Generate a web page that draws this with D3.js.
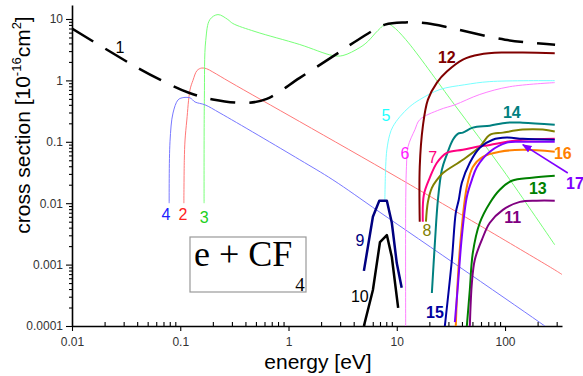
<!DOCTYPE html>
<html>
<head>
<meta charset="utf-8">
<script src="https://cdn.jsdelivr.net/npm/d3@7"></script>
<style>
  html, body { margin: 0; padding: 0; background: #fff; }
  svg { display: block; font-family: "Liberation Sans", Arial, sans-serif; }
  .tick text { fill: #333; font-size: 12px; }
</style>
</head>
<body>
<svg id="chart" width="583" height="376"></svg>
<script>
// energy [eV], cross section [1e-16 cm^2]
const curve1 = [[0.01,7],[0.036,1.8],[0.065,1.03],[0.12,0.63],[0.2,0.49],[0.4,0.43],[0.63,0.5],[1.27,1.1],[2.7,2.6],[4.4,4.6],[7.8,8.1],[12,8.8],[19,8.5],[33,7],[100,4.6],[290,3.8]];
const curve2 = [[0.108,0.01],[0.109,0.05],[0.1107,0.107],[0.115,0.226],[0.123,0.7],[0.131,1.0],[0.143,1.45],[0.158,1.59],[0.175,1.55],[0.2,1.37],[0.288,0.94],[1.27,0.213],[11.1,0.024],[288,8.2e-4],[336,6.9e-4]];
const curve3 = [[0.166,0.01],[0.167,0.5],[0.172,4.5],[0.188,9.8],[0.223,11.8],[0.275,9.8],[0.306,8.45],[0.49,6.25],[1.27,3.84],[2.57,2.54],[3.18,2.54],[4.56,3.43],[5.4,4.3],[6.7,6.5],[8.1,8.45],[9.2,7.55],[12.1,4.63],[34,0.406],[95.5,0.035],[288,0.0021]];
const curve4 = [[0.079,0.01],[0.0804,0.1],[0.0857,0.294],[0.0953,0.48],[0.104,0.52],[0.123,0.52],[0.137,0.445],[0.169,0.4],[0.233,0.294],[1.27,0.051],[2.57,0.024],[7,0.0071],[233,1e-4],[300,7.2e-5]];
const curve5 = [[7.76,0.011],[7.9,0.04],[8.1,0.074],[8.6,0.13],[9.2,0.176],[10.7,0.257],[13.2,0.374],[16.3,0.486],[25,0.71],[42.5,0.85],[72.4,0.956],[288,0.99]];
const curve6 = [[12.1,5e-5],[12.1,0.01],[12.3,0.04],[12.7,0.083],[14.7,0.157],[16.3,0.229],[25,0.334],[34.4,0.4],[58.5,0.59],[110.7,0.79],[288,0.92]];
const curve7 = [[17.4,0.005],[17.8,0.0137],[20.2,0.026],[23.5,0.0456],[29,0.066],[40.8,0.074],[55,0.083],[72.4,0.089],[104,0.1],[146,0.108],[288,0.112]];
const curve8 = [[18.6,0.005],[19.4,0.0105],[21.1,0.0178],[23.5,0.024],[26.7,0.031],[40.8,0.051],[58.5,0.083],[72.4,0.13],[95.5,0.141],[146,0.158],[223,0.158],[288,0.147]];
const curve9 = [[4.97,7.9e-4],[6.02,0.006],[6.9,0.011],[8.1,0.011],[9.0,0.0048],[10.0,0.00106],[11.1,4.2e-4]];
const curve10 = [[4.97,1e-4],[6.02,3.86e-4],[7.0,0.00233],[8.1,0.00303],[9.0,0.00133],[10.3,1.97e-4]];
const curve11 = [[47.3,1e-4],[49.4,5.0e-4],[52.6,0.0012],[61.1,0.00253],[72.4,0.0048],[95.5,0.0078],[137,0.0105],[197,0.011],[288,0.011]];
const curve12 = [[16.3,0.005],[16.3,0.039],[17.4,0.176],[19.4,0.486],[23.5,0.92],[29,1.39],[40.8,2.18],[58.5,2.64],[95.5,2.84],[146,2.84],[288,2.77]];
const curve13 = [[44.4,1e-4],[47.3,3.9e-4],[50.4,0.00155],[58.5,0.0048],[72.4,0.0101],[89.5,0.0166],[115.6,0.0232],[177,0.026],[288,0.028]];
const curve14 = [[21.1,3.45e-4],[22.5,0.00226],[24,0.0114],[26.1,0.035],[29,0.062],[33,0.108],[36.6,0.135],[40.8,0.141],[50.4,0.17],[72.4,0.183],[104,0.205],[146,0.205],[288,0.19]];
const curve15 = [[27.8,1e-4],[32.3,0.0012],[35.1,0.007],[37.4,0.0114],[39.9,0.0215],[47.3,0.0456],[58.5,0.08],[77,0.108],[104,0.117],[146,0.112],[288,0.108]];
const curve16 = [[35.1,1e-4],[36.6,5.6e-4],[39.1,0.00283],[44.4,0.0185],[50.4,0.039],[62.4,0.057],[89.5,0.069],[146,0.074],[288,0.069]];
const curve17 = [[34.4,1.16e-4],[36.6,4.3e-4],[39.9,0.00283],[44.4,0.0127],[49.4,0.024],[55,0.039],[72.4,0.069],[104,0.097],[146,0.1],[288,0.1]];

const curveLabels = ['1','2','3','4','5','6','7','8','9','10','11','12','13','14','15','16','17'];
const labelPos = [[0.0277,3.43],[0.106,0.0067],[0.166,0.006],[0.0738,0.0067],[7.93,0.267],[11.9,0.066],[21.5,0.055],[19,0.00368],[4.56,0.00253],[4.56,3.1e-4],[118,0.0058],[29,2.36],[201,0.0178],[115.6,0.3],[22.5,1.7e-4],[342,0.066],[442,0.0215]];
const arrow17 = [[380,0.031],[146,0.0897]];

const xTickLabels = ['0.01','0.1','1','10','100'];
const yTickLabels = ['0.0001','0.001','0.01','0.1','1','10'];

const series = [
  { data: curve2, color: '#ff7878', w: 1 },
  { data: curve3, color: '#78ff78', w: 1 },
  { data: curve4, color: '#7878ff', w: 1 },
  { data: curve5, color: '#78ffff', w: 1 },
  { data: curve6, color: '#ff80ff', w: 1 },
  { data: curve12, color: '#800000', w: 2 },
  { data: curve14, color: '#008080', w: 2 },
  { data: curve8, color: '#808000', w: 2 },
  { data: curve7, color: '#ff0080', w: 2 },
  { data: curve15, color: '#0000a0', w: 2 },
  { data: curve16, color: '#ff8000', w: 2 },
  { data: curve17, color: '#8000ff', w: 2 },
  { data: curve13, color: '#008000', w: 2 },
  { data: curve11, color: '#800080', w: 2 },
  { data: curve9, color: '#000080', w: 2.5, linear: true },
  { data: curve10, color: '#000000', w: 2.5, linear: true },
  { data: curve1, color: '#000000', w: 2.5, dash: '25,14' }
];
const labelColors = ['#000','#ff2020','#20d020','#2020ff','#20ffff','#ff20ff','#ff0080','#808000','#000080','#000','#800080','#800000','#008000','#008080','#0000a0','#ff8000','#8000ff'];
const boldLabels = ['11','12','13','14','15','16','17'];

const svg = d3.select('#chart');
const x = d3.scaleLog().domain([0.01, 336]).range([72, 562]);
const y = d3.scaleLog().domain([1e-4, 16.9]).range([326, 5]);

svg.append('defs').append('clipPath').attr('id', 'plot-clip')
  .append('rect').attr('x', 72).attr('y', 0).attr('width', 490).attr('height', 326);

function minors(domain) {
  const out = [];
  for (let k = -5; k <= 3; k++) {
    for (let m = 2; m <= 9; m++) {
      const v = m * Math.pow(10, k);
      if (v >= domain[0] && v <= domain[1]) out.push(v);
    }
  }
  return out;
}

// x axis
const xMajor = xTickLabels.map(Number);
svg.append('g').attr('transform', 'translate(0,326)')
  .call(d3.axisBottom(x).tickValues(minors(x.domain())).tickSize(-4).tickSizeOuter(0).tickFormat(''))
  .call(g => g.select('.domain').remove());
svg.append('g').attr('transform', 'translate(0,326)')
  .call(d3.axisBottom(x).tickValues(xMajor).tickSize(5).tickSizeOuter(0)
    .tickFormat((d, i) => xTickLabels[i]))
  .call(g => g.selectAll('text').attr('dy', '1.0em'));

// y axis
const yMajor = yTickLabels.map(Number);
svg.append('g').attr('transform', 'translate(72,0)')
  .call(d3.axisLeft(y).tickValues(minors(y.domain())).tickSize(3).tickSizeOuter(0).tickFormat(''))
  .call(g => g.select('.domain').remove());
svg.append('g').attr('transform', 'translate(72,0)')
  .call(d3.axisLeft(y).tickValues(yMajor).tickSize(6).tickSizeOuter(0)
    .tickFormat((d, i) => yTickLabels[i]))
  .call(g => g.selectAll('text').attr('x', -9));

svg.selectAll('.domain').attr('stroke', '#000').attr('stroke-width', 1.6);
svg.selectAll('.tick line').attr('stroke', '#000').attr('stroke-width', 1.1);

// curves
const plot = svg.append('g').attr('clip-path', 'url(#plot-clip)');
series.forEach(s => {
  const line = d3.line()
    .x(d => x(d[0])).y(d => y(d[1]))
    .curve(s.linear ? d3.curveLinear : d3.curveCatmullRom.alpha(0.5));
  plot.append('path')
    .attr('d', line(s.data))
    .attr('fill', 'none')
    .attr('stroke', s.color)
    .attr('stroke-width', s.w)
    .attr('stroke-dasharray', s.dash || null)
    .attr('stroke-linejoin', 'round');
});

// curve labels
svg.append('g').selectAll('text')
  .data(curveLabels)
  .join('text')
  .attr('x', (d, i) => x(labelPos[i][0]))
  .attr('y', (d, i) => y(labelPos[i][1]))
  .attr('dy', '0.36em')
  .attr('text-anchor', 'middle')
  .attr('font-size', 16)
  .attr('font-weight', d => boldLabels.includes(d) ? 'bold' : 'normal')
  .attr('fill', (d, i) => labelColors[i])
  .text(d => d);

// arrow for 17
svg.select('defs').append('marker')
  .attr('id', 'arrowhead').attr('viewBox', '0 0 10 10')
  .attr('refX', 9).attr('refY', 5)
  .attr('markerWidth', 6).attr('markerHeight', 6)
  .attr('orient', 'auto')
  .append('path').attr('d', 'M0,1 L10,5 L0,9 z').attr('fill', '#8000ff');
svg.append('line')
  .attr('x1', x(arrow17[0][0])).attr('y1', y(arrow17[0][1]))
  .attr('x2', x(arrow17[1][0])).attr('y2', y(arrow17[1][1]))
  .attr('stroke', '#8000ff').attr('stroke-width', 1.6)
  .attr('marker-end', 'url(#arrowhead)');

// formula box
const box = svg.append('g');
box.append('rect').attr('x', 190).attr('y', 237).attr('width', 116).attr('height', 55)
  .attr('fill', '#fff').attr('stroke', '#999').attr('stroke-width', 1.2);
const ft = box.append('text').attr('x', 194).attr('y', 266)
  .attr('font-family', '"Liberation Serif", "Times New Roman", serif')
  .attr('font-size', 36).attr('fill', '#000');
ft.append('tspan').text('e + CF');
ft.append('tspan').attr('font-size', 19).attr('dx', 3).attr('dy', 25).text('4');

// axis titles
svg.append('text')
  .attr('x', 318).attr('y', 369)
  .attr('text-anchor', 'middle').attr('font-size', 21).attr('fill', '#000')
  .text('energy [eV]');
const yt = svg.append('text')
  .attr('transform', 'translate(30,125) rotate(-90)')
  .attr('text-anchor', 'middle').attr('font-size', 21).attr('fill', '#000');
yt.append('tspan').text('cross section [10');
yt.append('tspan').attr('font-size', 13).attr('dy', -9).text('-16');
yt.append('tspan').attr('dy', 9).text('cm');
yt.append('tspan').attr('font-size', 13).attr('dy', -9).text('2');
yt.append('tspan').attr('dy', 9).text(']');
</script>
</body>
</html>
